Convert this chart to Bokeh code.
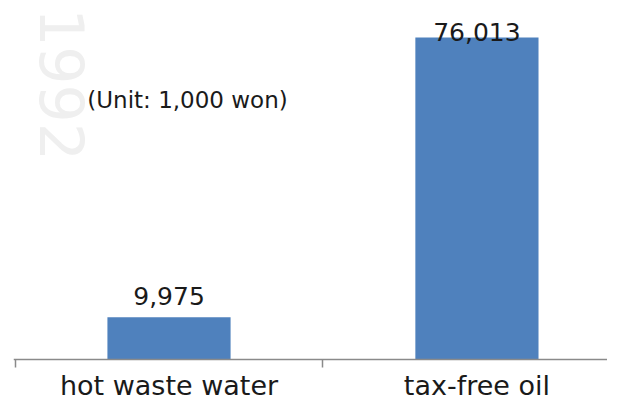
import math
from bokeh.plotting import figure
from bokeh.models import Range1d, LinearAxis, FixedTicker, Label, ColumnDataSource
from bokeh.core.properties import value
from bokeh.embed import file_html
from bokeh.resources import INLINE

# ---- data ----
categories = ["hot waste water", "tax-free oil"]
values = [9975, 76013]
unit_note = "(Unit: 1,000 won)"
watermark = "1992"

# ---- styling / layout ----
FONT = "DejaVu Sans"
BAR_COLOR = "#4F81BD"
AXIS_COLOR = "#8a8a8a"
TEXT_COLOR = "#1a1a1a"
label_gap_px = [21, 6]   # gap between bar top and value-label baseline

W, H = 607, 403
LEFT = 13
x_idx = list(range(len(categories)))
x_lo, x_hi = -0.505, 1.424
y_lo, y_hi = -10390, 84750

p = figure(width=W, height=H, output_backend="svg", toolbar_location=None,
           x_range=Range1d(x_lo, x_hi), y_range=Range1d(y_lo, y_hi),
           x_axis_location=None, y_axis_location=None,
           min_border_left=LEFT, min_border_right=0, min_border_top=0, min_border_bottom=0)
p.grid.visible = False
p.outline_line_color = None
p.background_fill_color = "white"
p.border_fill_color = "white"

def px_x(px):  # figure x pixel -> data x
    return x_lo + (px - LEFT) / (W - LEFT) * (x_hi - x_lo)
def px_y(py):  # figure y pixel -> data y
    return y_hi - py / H * (y_hi - y_lo)

# faint watermark
p.add_layout(Label(x=px_x(62), y=px_y(84), text=watermark, angle=-math.pi / 2,
                   text_font=FONT, text_font_size="60px", text_color="#efefef",
                   text_align="center", text_baseline="middle"))

src = ColumnDataSource(dict(
    x=x_idx, top=values,
    lab=[f"{v:,}" for v in values],
    yoff=[-g for g in label_gap_px],
))

p.vbar(x="x", top="top", bottom=0, width=0.4, source=src,
       fill_color=BAR_COLOR, line_color=None)

p.text(x="x", y="top", text="lab", y_offset="yoff", source=src,
       text_font=value(FONT), text_font_size="25px", text_color=TEXT_COLOR,
       text_align="center", text_baseline="alphabetic")

p.add_layout(Label(x=px_x(187), y=px_y(99), text=unit_note,
                   text_font=FONT, text_font_size="23px", text_color=TEXT_COLOR,
                   text_align="center", text_baseline="middle"))

# category axis at y = 0 with separator ticks between categories
minor = [i - 0.5 for i in range(len(categories) + 1)]
xaxis = LinearAxis(fixed_location=0,
                   ticker=FixedTicker(ticks=x_idx, minor_ticks=minor),
                   major_label_overrides={i: c for i, c in zip(x_idx, categories)})
xaxis.axis_line_color = AXIS_COLOR
xaxis.axis_line_width = 1.5
xaxis.major_tick_line_color = None
xaxis.major_tick_in = 0
xaxis.major_tick_out = 0
xaxis.minor_tick_line_color = AXIS_COLOR
xaxis.minor_tick_line_width = 1.5
xaxis.minor_tick_in = 0
xaxis.minor_tick_out = 8
xaxis.major_label_standoff = 3
xaxis.major_label_text_font = FONT
xaxis.major_label_text_font_size = "27px"
xaxis.major_label_text_color = TEXT_COLOR
p.add_layout(xaxis, "below")

open("out.html", "w").write(file_html(p, INLINE))
